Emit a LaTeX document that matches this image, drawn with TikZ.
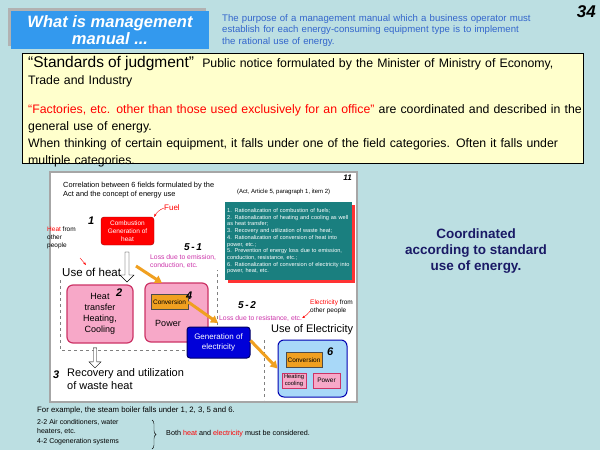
\documentclass[tikz,border=0pt]{standalone}
\usepackage{fontspec}
\setmainfont{Liberation Sans}
\usetikzlibrary{arrows.meta,decorations.pathreplacing,shapes.arrows}
\definecolor{bg}{HTML}{BCDFE2}
\definecolor{tblue}{HTML}{3399EE}
\definecolor{pblue}{HTML}{3366CC}
\definecolor{yel}{HTML}{FFFFCC}
\definecolor{teal2}{HTML}{1A7F7F}
\definecolor{pnk}{HTML}{F7A8C8}
\definecolor{pnkb}{HTML}{CC3366}
\definecolor{org}{HTML}{F0A020}
\definecolor{mag}{HTML}{CC33AA}
\definecolor{lblue}{HTML}{A8D8F8}
\definecolor{navy}{HTML}{1A1A66}
\newcommand\fsz[1]{\fontsize{#1}{\fpeval{#1*1.2}}\selectfont}
\tikzset{
 fs/.style={font=\fsz{#1}},
 pbox/.style={draw=pnkb,fill=pnk,rounded corners=6pt,line width=1.2pt},
 obox/.style={draw=black!70,fill=org,inner sep=1pt},
 oarr/.style={-{Triangle[length=7pt,width=8pt]},line width=3pt,draw=org},
 harr/.style={single arrow,draw=black,fill=white,minimum height=30pt,minimum width=14pt,single arrow head extend=3pt,shape border rotate=270,inner sep=1pt},
 num/.style={font=\fsz{#1}\bfseries\itshape,anchor=west,inner sep=0},
 lbl/.style={anchor=north west,inner sep=0pt,align=left}
}
\begin{document}
\begin{tikzpicture}[x=1pt,y=-1pt]
\useasboundingbox (0,0) rectangle (600,450);
\fill[bg] (0,0) rectangle (600,450);
% title
\fill[gray!60] (8,8) rectangle (206,46);
\node[fill=tblue,minimum width=198pt,minimum height=38pt,inner sep=0,text=white,align=center,font=\fontsize{16.5}{17}\selectfont\bfseries\itshape] (title) at (110,30) {What is management\\manual ...};
\node[lbl,text=pblue,fs=9.6,text width=310pt] (purp) at (222,14) {The purpose of a management manual which a business operator must establish for each energy-consuming equipment type is to implement the rational use of energy.};
\node[anchor=north east,inner sep=0,font=\fsz{17}\bfseries\itshape] (n34) at (596,5) {34};
% yellow box
\draw[fill=yel,line width=0.8pt] (22,53) rectangle (583,163);
\node[lbl,text width=555pt,font=\fontsize{12.3}{17}\selectfont] (std) at (28,56) {{\fontsize{15.5}{17}\selectfont “Standards of judgment”}\ \ Public notice formulated by the Minister of Ministry of Economy, Trade and Industry\\[12pt]
{\color{red}“Factories, etc. other than those used exclusively for an office”} are coordinated and described in the general use of energy.\\
When thinking of certain equipment, it falls under one of the field categories. Often it falls under multiple categories.};
% inner diagram
\draw[fill=white,draw=gray!70,line width=1.5pt] (50,172) rectangle (357,402);
\node[anchor=north east,inner sep=0,font=\fsz{8}\bfseries\itshape] (n11) at (352,175) {11};
\node[lbl,fs=7.4] (corr) at (63,182) {Correlation between 6 fields formulated by the\\Act and the concept of energy use};
\node[lbl,fs=6] (act) at (237,189) {(Act, Article 5, paragraph 1, item 2)};
\fill[red!80] (228,205) rectangle (355,283);
\node[lbl,fill=teal2,text=white,fs=5.6,text width=123pt,inner sep=2pt,minimum height=78pt] (teal) at (225,202) {1. Rationalization of combustion of fuels;\\2. Rationalization of heating and cooling as well as heat transfer;\\3. Recovery and utilization of waste heat;\\4. Rationalization of conversion of heat into power, etc.;\\5. Prevention of energy loss due to emission, conduction, resistance, etc.;\\6. Rationalization of conversion of electricity into power, heat, etc.};
% combustion
\node[draw=red!60!black,fill=red,rounded corners=3pt,text=white,align=center,fs=6.5,minimum width=53pt,minimum height=28pt,inner sep=1pt] (comb) at (127.5,231) {Combustion\\Generation of\\heat};
\node[num=11] (n1) at (88,221) {1};
\node[anchor=west,text=red,fs=8,inner sep=0] (fuel) at (164,208) {Fuel};
\draw[red,-{Stealth[length=3pt]}] (fuel.west) to[bend right=20] (comb.north east);
\node[lbl,fs=6.5] (hfo) at (47,227) {{\color{red}Heat} from\\other\\people};
\coordinate (ha) at (80,258);\coordinate (hb) at (86,265);
\draw[red,-{Stealth[length=3pt]}] (ha) -- (hb);
\node[harr] (da1) at (127,266) {};
\node[anchor=west,fs=11.5,inner sep=0] (uoh) at (62,272) {Use of heat};
\draw[dashed,gray] (60,280) -- (60,350) -- (217,350) -- (217,270);
\node[pbox,minimum width=66pt,minimum height=58pt,align=center,fs=9,inner sep=1pt] (ht) at (100,314) {Heat\\transfer\\Heating,\\Cooling};
\node[num=11] (n2) at (116,293) {2};
\node[pbox,minimum width=63pt,minimum height=59pt] (pw) at (176.5,312.5) {};
\node[obox,fs=6.5,minimum width=37pt,minimum height=15pt] (conv1) at (169.5,302) {Conversion};
\node[fs=9,inner sep=0] (pwt) at (168,323) {Power};
\node[num=11] (n4) at (186,296) {4};
\node[num=10] (n51) at (184,247) {5\,-\,1};
\node[lbl,text=mag,fs=6.8] (l51) at (150,254) {Loss due to emission,\\conduction, etc.};
\coordinate (o1a) at (136,266);
\coordinate (o1b) at (162,283);
\draw[oarr] (o1a) -- (o1b);
\coordinate (o2b) at (218,323);
\draw[oarr] (conv1.east) -- (o2b);
\node[draw=blue!40!black,fill=blue!85!black,rounded corners=3pt,text=white,align=center,fs=8,minimum width=63pt,minimum height=31pt,inner sep=1pt,line width=1pt] (gen) at (218.5,342.5) {Generation of\\electricity};
\node[num=10] (n52) at (238,305) {5\,-\,2};
\node[anchor=west,text=mag,fs=6.8,inner sep=0] (l52) at (219,318) {Loss due to resistance, etc.};
\node[lbl,fs=6.5] (efo) at (310,300) {{\color{red}Electricity} from\\other people};
\draw[red,-{Stealth[length=3pt]}] (efo.west) ++(0,4) to[bend left=10] (l52.east);
\node[anchor=west,fs=11,inner sep=0] (uoe) at (271,330) {Use of Electricity};
\draw[dashed,gray] (264,340) -- (264,400);
\node[draw=blue!70!black,fill=lblue,rounded corners=6pt,minimum width=69pt,minimum height=57pt,line width=1pt] (b6) at (312.5,368.5) {};
\node[num=11] (n6) at (327,352) {6};
\node[obox,fs=6.5,minimum width=36pt,minimum height=15pt] (conv2) at (304,360) {Conversion};
\node[draw=pnkb,fill=pnk,fs=5.8,align=center,inner sep=0.5pt,minimum width=24pt,minimum height=15pt,line width=0.8pt] (hc) at (294,380.5) {Heating\\cooling};
\node[draw=pnkb,fill=pnk,fs=6.5,inner sep=0.5pt,minimum width=27pt,minimum height=15pt,line width=0.8pt] (pw2) at (326.5,380.5) {Power};
\draw[oarr] (gen.east) ++(0,-2) -- (b6.west);
\node[harr,minimum height=20pt,minimum width=12pt] (da2) at (95,357) {};
\node[num=11] (n3) at (53,375) {3};
\node[lbl,fs=11] (rec) at (67,368) {Recovery and utilization\\of waste heat};
% right
\node[align=center,text=navy,font=\fsz{13.5}\bfseries] (coord) at (476,251) {Coordinated\\according to standard\\use of energy.};
% bottom
\node[lbl,fs=7.8] (ex) at (37,407) {For example, the steam boiler falls under 1, 2, 3, 5 and 6.};
\node[lbl,font=\fontsize{7}{9.5}\selectfont] (ac) at (37,419) {2-2 Air conditioners, water\\heaters, etc.\\4-2 Cogeneration systems};
\coordinate (bra) at (152,420);\coordinate (brb) at (152,449);
\draw[decorate,decoration={brace,amplitude=4pt}] (bra) -- (brb);
\node[anchor=west,fs=7.2,inner sep=0] (both) at (166,434) {Both {\color{red}heat} and {\color{red}electricity} must be considered.};
\end{tikzpicture}
\end{document}
